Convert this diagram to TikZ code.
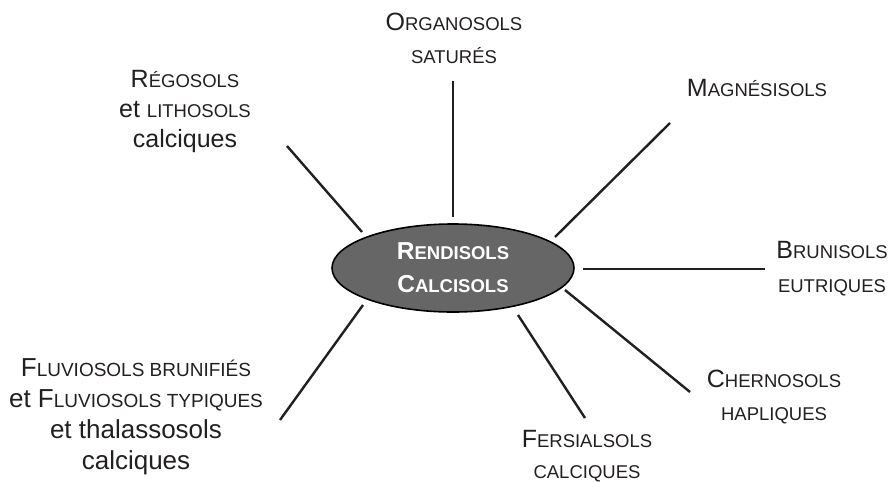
\documentclass[tikz,border=0pt]{standalone}
\usepackage{fontspec}
\setmainfont{Liberation Sans}
\usetikzlibrary{shapes.geometric}
\definecolor{ink}{HTML}{231F20}
\definecolor{core}{HTML}{666666}
\newcommand\lblsc[1]{{\fontsize{18.5}{32}\selectfont #1}}
\newcommand\hubsc[1]{{\fontsize{18.5}{32}\selectfont #1}}
\tikzset{
  lbl/.style={anchor=base, align=center, inner sep=0pt, text=ink, font=\fontsize{25}{32}\selectfont},
  spoke/.style={draw=ink, line width=2.4pt},
  hub/.style={ellipse, draw=black, line width=1.6pt, fill=core, minimum width=242pt, minimum height=88pt, inner sep=0pt, text=white, align=center, font=\bfseries\fontsize{24.5}{33}\selectfont}
}
\begin{document}
\begin{tikzpicture}[x=1pt,y=-1pt]
\useasboundingbox (0,0) rectangle (894,482);
\node[hub] (c) at (453,268) {R\hubsc{ENDISOLS}\\C\hubsc{ALCISOLS}};
\node[lbl, font=\fontsize{25}{33}\selectfont] (org) at (454,63) {O\lblsc{RGANOSOLS}\\\lblsc{SATURÉS}};
\node[lbl, font=\fontsize{25}{30}\selectfont] (reg) at (185,147) {R\lblsc{ÉGOSOLS}\\et \lblsc{LITHOSOLS}\\calciques};
\node[lbl] (mag) at (757,96) {M\lblsc{AGNÉSISOLS}};
\node[lbl, font=\fontsize{25}{34}\selectfont] (bru) at (832,292) {B\lblsc{RUNISOLS}\\\lblsc{EUTRIQUES}};
\node[lbl, font=\fontsize{25}{33}\selectfont] (che) at (774,420) {C\lblsc{HERNOSOLS}\\\lblsc{HAPLIQUES}};
\node[lbl, font=\fontsize{25}{31}\selectfont] (fer) at (587,478) {F\lblsc{ERSIALSOLS}\\\lblsc{CALCIQUES}};
\node[lbl, font=\fontsize{26}{31}\selectfont] (flu) at (136,469) {F{\fontsize{19}{31}\selectfont LUVIOSOLS BRUNIFIÉS}\\et F{\fontsize{19}{31}\selectfont LUVIOSOLS TYPIQUES}\\et thalassosols\\calciques};
\coordinate (org1) at (453,81);   \coordinate (org2) at (453,217);
\coordinate (reg1) at (287,146);  \coordinate (reg2) at (362,232);
\coordinate (mag1) at (670,123);  \coordinate (mag2) at (555,237);
\coordinate (bru1) at (765,269);  \coordinate (bru2) at (583,269);
\coordinate (che1) at (690,392);  \coordinate (che2) at (565,290);
\coordinate (fer1) at (585,418);  \coordinate (fer2) at (518,315);
\coordinate (flu1) at (280,420);  \coordinate (flu2) at (363,305);
\draw[spoke] (org1) -- (org2);
\draw[spoke] (reg1) -- (reg2);
\draw[spoke] (mag1) -- (mag2);
\draw[spoke] (bru1) -- (bru2);
\draw[spoke] (che1) -- (che2);
\draw[spoke] (fer1) -- (fer2);
\draw[spoke] (flu1) -- (flu2);
\end{tikzpicture}
\end{document}
